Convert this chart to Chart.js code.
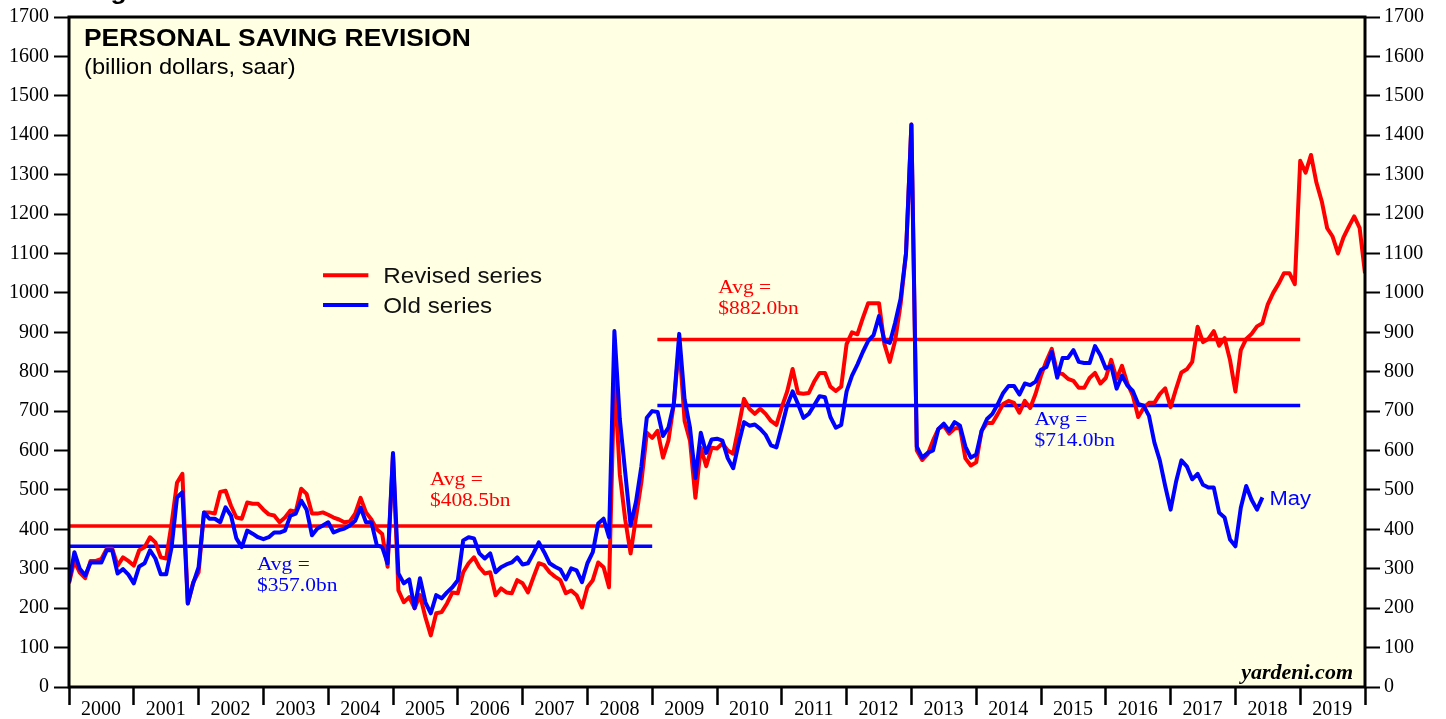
<!DOCTYPE html>
<html>
<head>
<meta charset="utf-8">
<title>Personal Saving Revision</title>
<script src="https://cdn.jsdelivr.net/npm/chart.js@4.4.1/dist/chart.umd.min.js"></script>
<style>
  html, body { margin: 0; padding: 0; background: #fff; }
  #saving { display: block; }
</style>
</head>
<body>
<canvas id="saving" width="1446" height="719"></canvas>
<script>
// monthly values, billion dollars saar. first value is Dec 1999 (sits on the 2000 tick)
const revisedSeries = [
  263, 320, 290, 276, 320, 320, 325, 351, 351, 308, 329, 320,
  308, 347, 355, 380, 367, 329, 326, 415, 518, 541, 212, 266,
  291, 443, 443, 440, 495, 498, 460, 430, 427, 468, 465, 465,
  450, 438, 435, 418, 430, 448, 445, 503, 490, 440, 440, 443,
  437, 430, 425, 418, 420, 440, 480, 443, 425, 400, 388, 305,
  590, 245, 215, 228, 200, 233, 177, 131, 187, 190, 212, 240,
  238, 291, 314, 329, 304, 288, 291, 233, 250, 240, 238, 271,
  263, 240, 278, 314, 309, 291, 280, 271, 238, 245, 233, 202,
  253, 271, 316, 304, 253, 790, 540, 425, 339, 430, 520, 645,
  632, 650, 582, 625, 718, 870, 675, 625, 480, 607, 560, 607,
  605, 618, 600, 592, 660, 731, 706, 693, 706, 693, 675, 665,
  710, 750, 807, 746, 744, 746, 775, 797, 797, 762, 751, 762,
  870, 900, 895, 936, 974, 974, 974, 870, 825, 880, 971, 1100,
  1427, 600, 576, 590, 625, 655, 663, 643, 656, 658, 580, 562,
  570, 650, 670, 670, 693, 718, 726, 721, 696, 726, 708, 744,
  790, 827, 858, 797, 794, 782, 777, 759, 759, 784, 797, 770,
  784, 830, 782, 815, 770, 740, 685, 708, 721, 721, 743, 758,
  710, 756, 798, 806, 825, 914, 875, 883, 903, 866, 885, 830,
  750, 855, 883, 896, 915, 923, 971, 1000, 1023, 1050, 1050, 1022,
  1335, 1305, 1350, 1280, 1232, 1164, 1143, 1100, 1140, 1168, 1194, 1165, 1050
];

const oldSeries = [
  266, 342, 300, 283, 316, 316, 316, 347, 347, 288, 299, 285,
  263, 306, 314, 347, 326, 286, 286, 355, 481, 494, 212, 263,
  304, 443, 427, 427, 418, 456, 435, 377, 355, 397, 389, 380,
  375, 380, 392, 392, 397, 435, 440, 473, 450, 385, 402, 410,
  418, 392, 398, 402, 410, 422, 455, 418, 418, 360, 355, 314,
  594, 288, 263, 273, 200, 276, 215, 187, 233, 225, 240, 253,
  271, 372, 380, 377, 339, 326, 339, 291, 304, 311, 316, 329,
  311, 314, 339, 367, 342, 314, 305, 298, 273, 301, 296, 266,
  314, 342, 415, 427, 380, 903, 680, 545, 410, 470, 560, 683,
  700, 698, 637, 658, 718, 896, 730, 658, 530, 645, 594, 628,
  630, 625, 580, 555, 617, 672, 663, 666, 655, 640, 613, 608,
  660, 715, 750, 718, 683, 693, 715, 738, 735, 685, 658, 665,
  750, 790, 818, 850, 878, 893, 941, 878, 873, 925, 985, 1100,
  1427, 610, 582, 594, 600, 655, 668, 650, 672, 663, 610, 582,
  590, 650, 680, 693, 718, 746, 764, 764, 742, 770, 766, 775,
  805, 812, 850, 785, 835, 835, 855, 825, 822, 822, 865, 842,
  808, 815, 757, 790, 765, 751, 718, 714, 688, 620, 575, 510,
  450, 520, 575, 560, 527, 541, 513, 506, 506, 442, 430, 374,
  357, 455, 510, 475, 450, 481
];

const yearLabels = ['2000', '2001', '2002', '2003', '2004', '2005', '2006', '2007', '2008', '2009',
                    '2010', '2011', '2012', '2013', '2014', '2015', '2016', '2017', '2018', '2019'];
const seriesNames = ['Revised series', 'Old series'];
const avgRevised = [408.5, 882.0];
const avgOld = [357.0, 714.0];
const avgPeriods = [[2000, 2009], [2009.08, 2019]];
const avgLabels = ['$408.5bn', '$882.0bn', '$357.0bn', '$714.0bn'];
const lastOldLabel = 'May';

const RED = '#ff0000';
const BLUE = '#0000ff';
const firstYear = 2000;

const toPoints = arr => arr.map((v, i) => ({ x: firstYear + i / 12, y: v }));

const avgPoints = vals => [
  { x: avgPeriods[0][0], y: vals[0] },
  { x: avgPeriods[0][1], y: vals[0] },
  { x: (avgPeriods[0][1] + avgPeriods[1][0]) / 2, y: null },
  { x: avgPeriods[1][0], y: vals[1] },
  { x: avgPeriods[1][1], y: vals[1] }
];

// draws text a little wider than the font, like the original artwork
function wideText(ctx, str, x, y, font, color, align) {
  ctx.save();
  ctx.font = font;
  ctx.fillStyle = color;
  ctx.textBaseline = 'alphabetic';
  ctx.textAlign = align || 'left';
  ctx.translate(x, y);
  ctx.scale(1.1, 1);
  ctx.fillText(str, 0, 0);
  ctx.restore();
}

const backdrop = {
  id: 'backdrop',
  beforeDraw(chart) {
    const { ctx, chartArea: a } = chart;
    ctx.save();
    ctx.fillStyle = '#ffffff';
    ctx.fillRect(0, 0, chart.width, chart.height);
    ctx.fillStyle = '#ffffe3';
    ctx.fillRect(a.left, a.top, a.right - a.left, a.bottom - a.top);
    ctx.restore();
  }
};

const decorations = {
  id: 'decorations',
  afterDraw(chart) {
    const { ctx, chartArea: a } = chart;
    const xs = chart.scales.x, ys = chart.scales.y;
    const px = v => xs.getPixelForValue(v);
    const py = v => ys.getPixelForValue(v);

    // frame
    ctx.save();
    ctx.strokeStyle = '#000';
    ctx.lineWidth = 3;
    ctx.strokeRect(a.left, a.top, a.right - a.left, a.bottom - a.top);
    ctx.restore();

    // cut-off heading above the frame
    wideText(ctx, 'Figure', 87, -1, 'bold 24px "Liberation Sans", Arial, sans-serif', '#000');

    wideText(ctx, 'PERSONAL SAVING REVISION', a.left + 15, a.top + 29,
      'bold 24px "Liberation Sans", Arial, sans-serif', '#000');
    wideText(ctx, '(billion dollars, saar)', a.left + 15, a.top + 57,
      '21.5px "Liberation Sans", Arial, sans-serif', '#000');

    // legend
    const legend = [[seriesNames[0], RED, 1045], [seriesNames[1], BLUE, 969]];
    legend.forEach(([name, color, v]) => {
      const y = py(v);
      ctx.save();
      ctx.strokeStyle = color;
      ctx.lineWidth = 4;
      ctx.beginPath();
      ctx.moveTo(px(2003.92), y);
      ctx.lineTo(px(2004.62), y);
      ctx.stroke();
      ctx.restore();
      wideText(ctx, name, px(2004.85), y + 8, '22px "Liberation Sans", Arial, sans-serif', '#111');
    });

    // average notes
    const serif = '19.5px "Liberation Serif", "Times New Roman", serif';
    const notes = [
      [avgLabels[0], RED, 2005.57, 513],
      [avgLabels[1], RED, 2010.02, 999],
      [avgLabels[2], BLUE, 2002.90, 296],
      [avgLabels[3], BLUE, 2014.90, 664]
    ];
    notes.forEach(([txt, color, xv, yv]) => {
      const x = px(xv), y = py(yv);
      wideText(ctx, 'Avg =', x, y, serif, color);
      wideText(ctx, txt, x, y + 21, serif, color);
    });

    // last point of the old series
    const lastIdx = oldSeries.length - 1;
    wideText(ctx, lastOldLabel, px(firstYear + lastIdx / 12) + 7, py(oldSeries[lastIdx]) + 8,
      '20px "Liberation Sans", Arial, sans-serif', BLUE);

    wideText(ctx, 'yardeni.com', a.right - 12, a.bottom - 8,
      'bold italic 20px "Liberation Serif", "Times New Roman", serif', '#000', 'right');
  }
};

const yAxis = (position, width, padding) => ({
  type: 'linear',
  position: position,
  min: 0,
  max: 1700,
  afterFit: s => { s.width = width; },
  border: { display: false },
  grid: {
    drawOnChartArea: false,
    drawTicks: true,
    tickLength: 15,
    tickWidth: 2,
    tickColor: '#000'
  },
  ticks: {
    stepSize: 100,
    padding: padding,
    color: '#000',
    font: { family: '"Liberation Serif", "Times New Roman", serif', size: 20 },
    callback: v => String(v)
  }
});

new Chart(document.getElementById('saving'), {
  type: 'line',
  data: {
    datasets: [
      {
        label: seriesNames[1],
        data: toPoints(oldSeries),
        borderColor: BLUE,
        borderWidth: 4,
        order: 1
      },
      {
        label: seriesNames[0],
        data: toPoints(revisedSeries),
        borderColor: RED,
        borderWidth: 4,
        order: 2
      },
      {
        label: 'avg old',
        data: avgPoints(avgOld),
        borderColor: BLUE,
        borderWidth: 3.5,
        spanGaps: false,
        order: 3
      },
      {
        label: 'avg revised',
        data: avgPoints(avgRevised),
        borderColor: RED,
        borderWidth: 3.5,
        spanGaps: false,
        order: 4
      }
    ]
  },
  options: {
    responsive: false,
    animation: false,
    devicePixelRatio: 1,
    layout: { padding: { top: 15, left: 0, right: 0, bottom: 0 }, autoPadding: false },
    elements: {
      point: { radius: 0 },
      line: { tension: 0, borderJoinStyle: 'round', borderCapStyle: 'butt' }
    },
    plugins: {
      legend: { display: false },
      tooltip: { enabled: false }
    },
    scales: {
      x: {
        type: 'linear',
        min: 2000,
        max: 2020,
        afterFit: s => { s.height = 32; },
        border: { display: false },
        grid: {
          drawOnChartArea: false,
          drawTicks: true,
          tickLength: 18,
          tickWidth: 2.5,
          tickColor: '#000'
        },
        ticks: {
          stepSize: 1,
          autoSkip: false,
          maxRotation: 0,
          labelOffset: 32,
          padding: -7,
          color: '#000',
          font: { family: '"Liberation Serif", "Times New Roman", serif', size: 20 },
          callback: v => yearLabels[v - firstYear] || ''
        }
      },
      y: yAxis('left', 69, 5),
      y2: yAxis('right', 81, 4)
    }
  },
  plugins: [backdrop, decorations]
});
</script>
</body>
</html>
